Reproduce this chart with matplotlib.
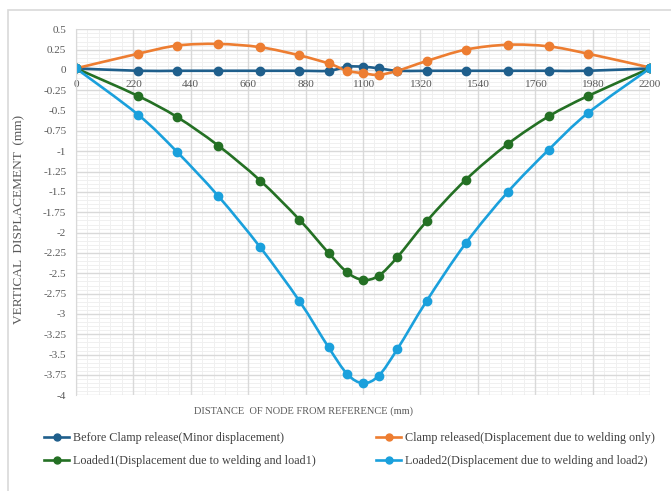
import numpy as np
import matplotlib
matplotlib.use("Agg")
import matplotlib.pyplot as plt
from matplotlib.path import Path
from matplotlib.patches import PathPatch, Rectangle
from matplotlib.lines import Line2D

plt.rcParams['font.family'] = ['Liberation Serif', 'DejaVu Serif']

# node positions along the beam (mm)
nodes = [0, 238, 388, 545, 706, 856, 968, 1040, 1100,
         1160, 1232, 1344, 1494, 1655, 1812, 1962, 2200]

# vertical displacement at each node (mm)
before_release = [0.02, -0.01, -0.01, -0.01, -0.01, -0.01, -0.01, 0.04, 0.04,
                  0.02, -0.01, -0.01, -0.01, -0.01, -0.01, -0.01, 0.02]
clamp_released = [0.02, 0.20, 0.30, 0.32, 0.28, 0.18, 0.08, -0.01, -0.04,
                  -0.06, -0.01, 0.11, 0.25, 0.31, 0.29, 0.20, 0.03]
loaded1 = [0.02, -0.32, -0.58, -0.93, -1.36, -1.84, -2.25, -2.49, -2.58,
           -2.53, -2.30, -1.86, -1.35, -0.91, -0.57, -0.32, 0.02]
loaded2 = [0.02, -0.55, -1.01, -1.55, -2.18, -2.84, -3.41, -3.74, -3.85,
           -3.76, -3.43, -2.84, -2.13, -1.50, -0.98, -0.53, 0.02]

labels = ["Before Clamp release(Minor displacement)",
          "Clamp released(Displacement due to welding only)",
          "Loaded1(Displacement due to welding and load1)",
          "Loaded2(Displacement due to welding and load2)"]
colors = ["#1f5f8c", "#ed7d31", "#247024", "#1aa0dc"]
x_ticks = [0, 220, 440, 660, 880, 1100, 1320, 1540, 1760, 1980, 2200]
y_ticks = np.arange(-4, 0.51, 0.25)


def smooth_path(xs, ys):
    # cubic bezier through every point (catmull-rom style, like a smoothed line)
    p = np.column_stack([xs, ys]).astype(float)
    verts = [p[0]]
    codes = [Path.MOVETO]
    n = len(p)
    for i in range(n - 1):
        p0 = p[i - 1] if i > 0 else p[i]
        p3 = p[i + 2] if i + 2 < n else p[i + 1]
        c1 = p[i] + (p[i + 1] - p0) / 6
        c2 = p[i + 1] - (p3 - p[i]) / 6
        verts += [c1, c2, p[i + 1]]
        codes += [Path.CURVE4] * 3
    return Path(verts, codes)


fig = plt.figure(figsize=(6.71, 4.91), dpi=100)
ax = fig.add_axes([76 / 671, 1 - 395.3 / 491, 574 / 671, 366 / 491])

# outer frame of the chart area (left and top edges only)
fig.patches.append(Rectangle((8 / 671, -0.1), 1.2, 1 - 10 / 491 + 0.1,
                             transform=fig.transFigure, fill=False,
                             edgecolor="#d9d9d9", lw=1.2))

ax.set_xlim(0, 2200)
ax.set_ylim(-4, 0.5)
ax.set_xticks(x_ticks)
ax.set_yticks(y_ticks)
ax.grid(which="major", color="#d9d9d9", lw=1.0)
ax.set_axisbelow(True)

# minor grid drawn under the axis so the tick labels stay on top
ax.vlines(np.arange(0, 2201, 44), -4, 0.5, colors="#f0f0f0", lw=0.7, zorder=0.3)
ax.hlines(np.arange(-4, 0.51, 0.05), 0, 2200, colors="#f0f0f0", lw=0.7, zorder=0.3)

for s in ["top", "right", "bottom"]:
    ax.spines[s].set_visible(False)
ax.spines["left"].set_color("#d9d9d9")
ax.spines["bottom"].set_position(("data", 0))

ax.tick_params(which="both", length=0, colors="#595959")
ax.tick_params(axis="y", pad=7, labelsize=8)
ax.tick_params(axis="x", pad=7.5, labelsize=8.2)
ax.set_yticklabels([f"{v:g}" for v in y_ticks])
ax.set_xticklabels([str(v) for v in x_ticks])

series = [before_release, clamp_released, loaded1, loaded2]
handles = []
for ys, c, lab in zip(series, colors, labels):
    ax.add_patch(PathPatch(smooth_path(nodes, ys), fill=False, edgecolor=c,
                           lw=1.9, capstyle="round", joinstyle="round"))
    ax.plot(nodes, ys, ls="none", marker="o", ms=6, color=c)
    handles.append(Line2D([], [], color=c, lw=1.9, marker="o", ms=5, label=lab))

fig.text(303 / 671, 1 - 411 / 491, "DISTANCE  OF NODE FROM REFERENCE (mm)",
         ha="center", va="center", fontsize=7.5, color="#595959")
fig.text(19 / 671, 1 - 219 / 491, "VERTICAL  DISPLACEMENT  (mm)",
         ha="center", va="center", rotation=90, fontsize=9.6, color="#595959")

order = [0, 2, 1, 3]
fig.legend([handles[i] for i in order], [labels[i] for i in order],
           ncol=2, loc="center left", bbox_to_anchor=(33 / 671, 1 - 449.5 / 491),
           frameon=False, fontsize=8.7, handlelength=2.1, handletextpad=0.3,
           columnspacing=5.0, labelspacing=0.95, labelcolor="#404040")

fig.savefig("out.png", dpi=100)
